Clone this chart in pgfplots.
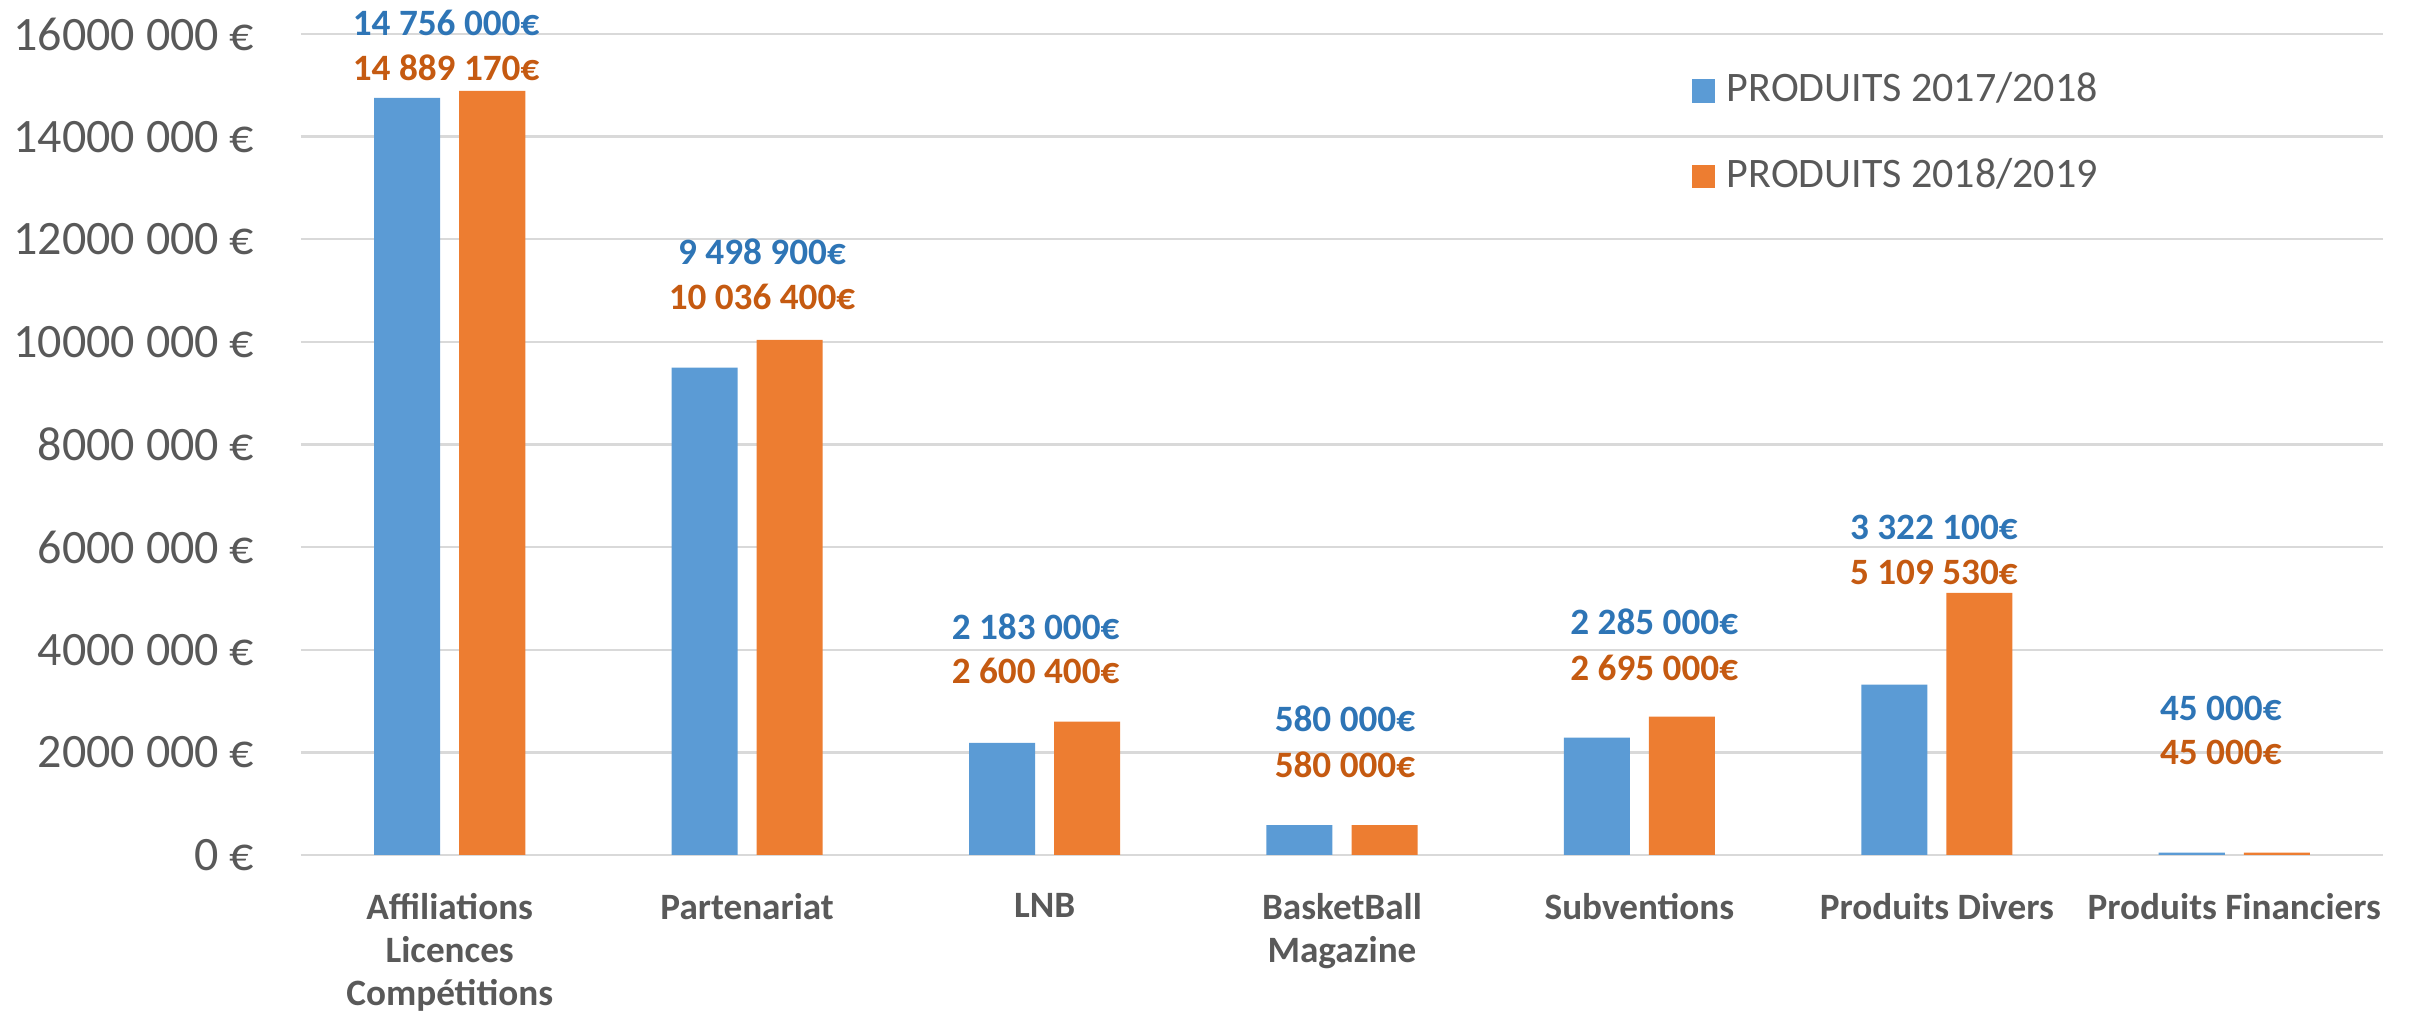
\documentclass[border=0pt]{standalone}
\usepackage{fontspec}
\setmainfont{Carlito}
\usepackage{pgfplots}
\pgfplotsset{compat=1.18}
\definecolor{cblue}{HTML}{5B9BD5}
\definecolor{corange}{HTML}{ED7D31}
\definecolor{lblue}{HTML}{2E75B6}
\definecolor{lorange}{HTML}{C55A11}
\definecolor{tgray}{HTML}{595959}
\definecolor{ggray}{HTML}{D9D9D9}
\begin{document}
\begin{tikzpicture}
\path[use as bounding box] (0,0) rectangle (603pt,253.25pt);
\begin{axis}[
  at={(75.25pt,39.5pt)}, anchor=south west,
  scale only axis, width=520.5pt, height=205.25pt,
  xmin=-0.5, xmax=6.5, ymin=0, ymax=16000000,
  axis line style={draw=none},
  ytick={0,2000000,4000000,6000000,8000000,10000000,12000000,14000000,16000000},
  yticklabels={0 €,2000 000 €,4000 000 €,6000 000 €,8000 000 €,10000 000 €,12000 000 €,14000 000 €,16000 000 €},
  yticklabel style={font=\fontsize{12}{14}\selectfont, text=tgray, inner sep=0pt, xshift=-11.5pt},
  xtick={0,1,2,3,4,5,6},
  xticklabels={{Affiliations\\Licences\\Compétitions},Partenariat,LNB,{BasketBall\\Magazine},Subventions,Produits Divers,Produits Financiers},
  xticklabel style={font=\fontsize{9.3}{10.8}\selectfont\bfseries, text=tgray, align=center, inner sep=0pt, anchor=north, yshift=-9.3pt},
  ymajorgrids, grid style={ggray, line width=0.6pt},
  major tick length=0pt,
  scaled y ticks=false,
  clip=false,
  legend style={draw=none, fill=none, at={(0.6676,0.8794)}, anchor=west, inner sep=0pt,
    font=\fontsize{10.5}{12.6}\selectfont, text=tgray, row sep=12.6pt, column sep=3pt,
    nodes={inner sep=0pt, anchor=base west}},
  legend cell align=left,
]
\addplot[ybar, bar width=0.222, bar shift=-0.143, draw=none, fill=cblue,
  legend image code/.code={\fill[cblue] (0pt,-0.2pt) rectangle (5.8pt,5.6pt);}]
  coordinates {(0,14756000) (1,9498900) (2,2183000) (3,580000) (4,2285000) (5,3322100) (6,45000)};
\addlegendentry{PRODUITS 2017/2018}
\addplot[ybar, bar width=0.222, bar shift=0.143, draw=none, fill=corange,
  legend image code/.code={\fill[corange] (0pt,-0.2pt) rectangle (5.8pt,5.6pt);}]
  coordinates {(0,14889170) (1,10036400) (2,2600400) (3,580000) (4,2695000) (5,5109530) (6,45000)};
\addlegendentry{PRODUITS 2018/2019}

\tikzset{bl/.style={font=\fontsize{9.3}{11}\selectfont\bfseries, text=lblue, inner sep=0pt},
         ol/.style={font=\fontsize{9.3}{11}\selectfont\bfseries, text=lorange, inner sep=0pt}}
\node[bl] at (axis cs:-0.012,16210000) {14 756 000€};
\node[ol] at (axis cs:-0.012,15350000) {14 889 170€};
\node[bl] at (axis cs:1.05,11760000) {9 498 900€};
\node[ol] at (axis cs:1.05,10870000) {10 036 400€};
\node[bl] at (axis cs:1.97,4450000) {2 183 000€};
\node[ol] at (axis cs:1.97,3580000) {2 600 400€};
\node[bl] at (axis cs:3.01,2660000) {580 000€};
\node[ol] at (axis cs:3.01,1760000) {580 000€};
\node[bl] at (axis cs:4.05,4540000) {2 285 000€};
\node[ol] at (axis cs:4.05,3640000) {2 695 000€};
\node[bl] at (axis cs:4.99,6380000) {3 322 100€};
\node[ol] at (axis cs:4.99,5500000) {5 109 530€};
\node[bl] at (axis cs:5.955,2850000) {45 000€};
\node[ol] at (axis cs:5.955,1990000) {45 000€};
\end{axis}
\end{tikzpicture}
\end{document}
